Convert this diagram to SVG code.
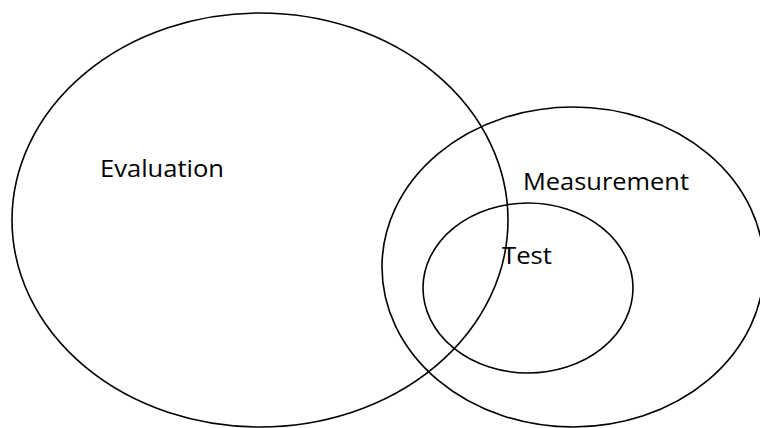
<svg xmlns="http://www.w3.org/2000/svg" width="760" height="428" viewBox="0 0 760 428">
<style>
.set{fill:none;stroke:#000;stroke-width:1.6}
.lbl{font-family:"Open Sans","Liberation Sans",sans-serif;font-size:23.5px;fill:#000}
</style>
<rect width="760" height="428" fill="#fff"/>
<g id="evaluation">
<ellipse class="set" cx="260" cy="220" rx="248" ry="207"/>
<text class="lbl" x="100" y="177" textLength="124" lengthAdjust="spacingAndGlyphs">Evaluation</text>
</g>
<g id="measurement">
<ellipse class="set" cx="573" cy="267" rx="191" ry="160"/>
<text class="lbl" x="523" y="190" textLength="166" lengthAdjust="spacingAndGlyphs">Measurement</text>
</g>
<g id="test">
<ellipse class="set" cx="528" cy="288" rx="105" ry="85"/>
<text class="lbl" x="502" y="264" textLength="50" lengthAdjust="spacingAndGlyphs">Test</text>
</g>
<g id="connectors"></g>
</svg>
